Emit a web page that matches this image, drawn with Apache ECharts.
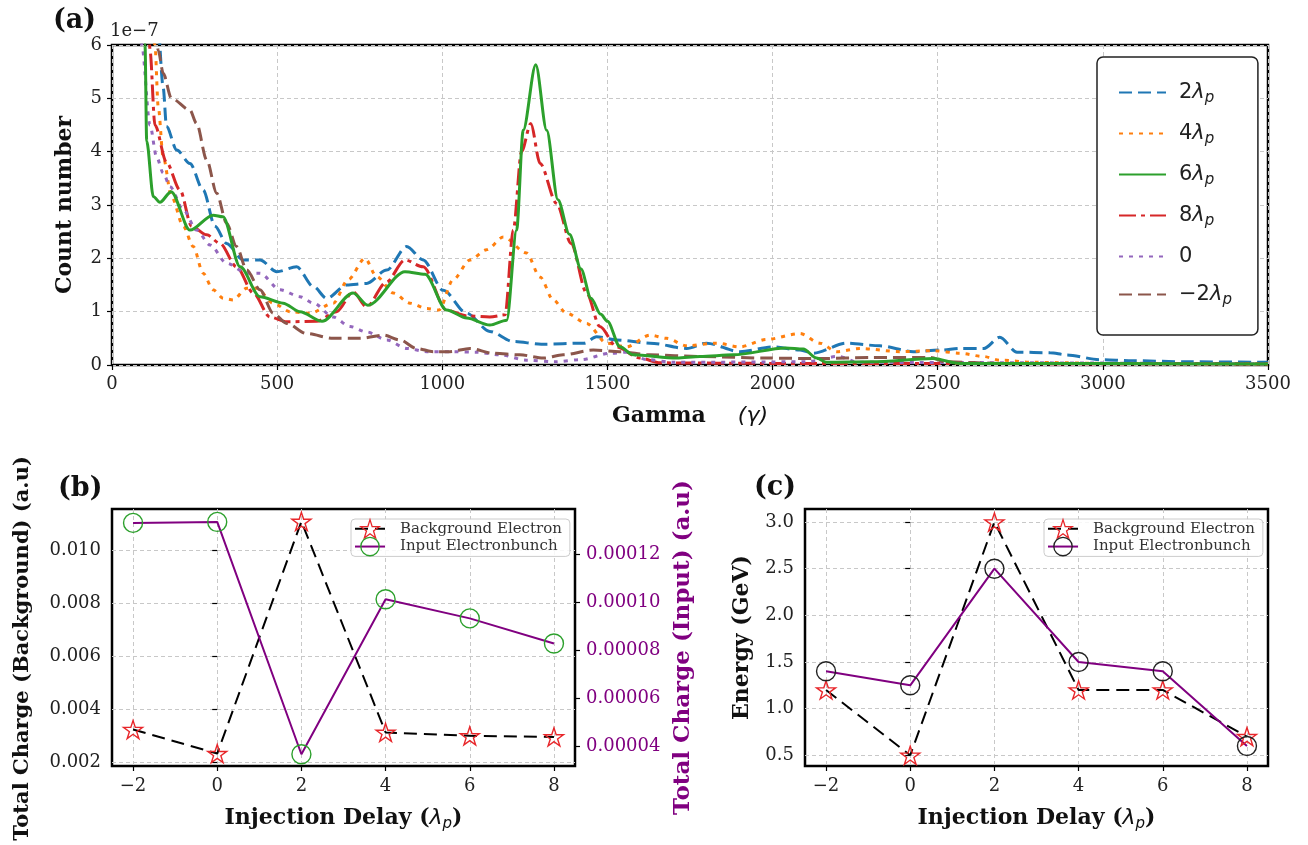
<!DOCTYPE html>
<html>
<head>
<meta charset="utf-8">
<script src="https://cdn.jsdelivr.net/npm/echarts@6/dist/echarts.min.js"></script>
<style>
html, body { margin: 0; padding: 0; background: #fff; }
#chart { width: 1308px; height: 845px; }
</style>
</head>
<body>
<div id="chart"></div>
<script>
// ---- panel (a): electron spectra, [gamma, count (x1e-7)] ----
const spectrumNames = ['2λp', '4λp', '6λp', '8λp', '0', '−2λp'];
const spec2 = [[140, 6.6], [155, 5.2], [165, 4.47], [196, 4.03], [236, 3.78], [276, 3.28], [312, 2.6], [347, 2.28], [397, 1.97], [448, 1.97], [499, 1.75], [559, 1.84], [610, 1.47], [650, 1.25], [711, 1.5], [771, 1.53], [832, 1.78], [892, 2.22], [942, 1.97], [1003, 1.4], [1074, 0.97], [1144, 0.63], [1215, 0.44], [1300, 0.39], [1430, 0.41], [1467, 0.53], [1528, 0.47], [1629, 0.41], [1740, 0.31], [1800, 0.41], [1901, 0.25], [2002, 0.34], [2083, 0.28], [2123, 0.22], [2224, 0.41], [2325, 0.36], [2426, 0.25], [2510, 0.28], [2567, 0.31], [2640, 0.31], [2688, 0.52], [2740, 0.24], [2840, 0.23], [2890, 0.19], [2990, 0.1], [3090, 0.08], [3250, 0.06], [3500, 0.05]];
const spec4 = [[115, 7], [130, 6.0], [140, 4.84], [155, 3.9], [180, 3.16], [216, 2.6], [246, 2.22], [276, 1.72], [306, 1.41], [337, 1.25], [367, 1.22], [408, 1.44], [438, 1.44], [488, 1.16], [539, 1.0], [600, 0.97], [670, 1.16], [715, 1.6], [766, 2.0], [801, 1.66], [852, 1.35], [902, 1.16], [953, 1.06], [990, 1.03], [1033, 1.6], [1084, 1.97], [1134, 2.16], [1185, 2.4], [1255, 2.1], [1296, 1.65], [1336, 1.22], [1376, 0.97], [1437, 0.78], [1498, 0.41], [1558, 0.34], [1629, 0.56], [1679, 0.5], [1740, 0.36], [1830, 0.41], [1901, 0.34], [1982, 0.48], [2083, 0.59], [2143, 0.41], [2194, 0.25], [2265, 0.31], [2386, 0.25], [2487, 0.27], [2567, 0.22], [2638, 0.16], [2688, 0.09], [2789, 0.05], [3000, 0.03], [3500, 0.02]];
const spec6 = [[85, 7.5], [100, 6.0], [105, 4.2], [125, 3.16], [145, 3.05], [179, 3.25], [236, 2.53], [306, 2.81], [336, 2.78], [388, 1.84], [448, 1.28], [518, 1.16], [569, 1.0], [636, 0.82], [730, 1.35], [775, 1.12], [887, 1.75], [948, 1.7], [1013, 1.03], [1074, 0.88], [1144, 0.75], [1195, 0.84], [1225, 2.53], [1245, 4.4], [1283, 5.63], [1316, 4.4], [1350, 3.1], [1385, 2.45], [1420, 1.8], [1450, 1.25], [1480, 0.95], [1500, 0.82], [1538, 0.34], [1578, 0.19], [1710, 0.13], [1780, 0.16], [1881, 0.19], [2040, 0.32], [2093, 0.3], [2133, 0.13], [2164, 0.05], [2300, 0.06], [2486, 0.12], [2565, 0.03], [3500, 0.02]];
const spec8 = [[110, 7], [115, 5.9], [130, 4.5], [165, 3.8], [206, 3.28], [241, 2.6], [287, 2.44], [327, 2.28], [377, 1.84], [428, 1.35], [478, 0.9], [529, 0.81], [620, 0.82], [680, 1.0], [730, 1.37], [771, 1.09], [830, 1.55], [887, 1.97], [942, 1.84], [1013, 1.03], [1074, 0.92], [1144, 0.9], [1190, 0.94], [1215, 2.53], [1240, 4.0], [1268, 4.53], [1296, 3.78], [1346, 3.03], [1390, 2.28], [1437, 1.35], [1477, 0.72], [1528, 0.34], [1598, 0.13], [1660, 0.04], [2000, 0.03], [3500, 0.02]];
const spec0 = [[85, 7], [90, 6.0], [115, 4.5], [135, 3.9], [155, 3.6], [176, 3.34], [216, 2.91], [256, 2.53], [297, 2.25], [347, 1.91], [408, 1.72], [448, 1.72], [509, 1.41], [569, 1.28], [610, 1.16], [670, 0.9], [721, 0.72], [771, 0.62], [832, 0.47], [892, 0.31], [953, 0.25], [1033, 0.25], [1104, 0.24], [1175, 0.19], [1255, 0.09], [1340, 0.06], [1420, 0.1], [1508, 0.22], [1560, 0.24], [1620, 0.1], [1700, 0.05], [2100, 0.06], [2198, 0.16], [2260, 0.05], [3500, 0.02]];
const specM2 = [[125, 7], [140, 5.9], [155, 5.47], [180, 5.0], [236, 4.78], [256, 4.53], [287, 3.84], [317, 3.22], [347, 2.66], [377, 2.22], [408, 1.78], [448, 1.41], [488, 0.97], [529, 0.78], [589, 0.59], [670, 0.5], [751, 0.5], [822, 0.56], [872, 0.47], [922, 0.31], [973, 0.25], [1023, 0.25], [1084, 0.31], [1154, 0.22], [1235, 0.19], [1306, 0.13], [1366, 0.19], [1457, 0.28], [1538, 0.25], [1629, 0.19], [1780, 0.16], [1982, 0.13], [2143, 0.12], [2300, 0.14], [2480, 0.14], [2520, 0.06], [2700, 0.03], [3500, 0.02]];
const spectra = [spec2, spec4, spec6, spec8, spec0, specM2];

// ---- panels (b) and (c) ----
const delays = [-2, 0, 2, 4, 6, 8];
const bgCharge = [0.00323, 0.00232, 0.0111, 0.00312, 0.00299, 0.00295];
const inputCharge = [0.0001333, 0.0001337, 0.0000366, 0.0001014, 0.0000934, 0.0000829];
const bgEnergy = [1.2, 0.5, 3.0, 1.2, 1.2, 0.7];
const inputEnergy = [1.4, 1.25, 2.5, 1.5, 1.4, 0.6];

const delayTicks = [-2, 0, 2, 4, 6, 8];
const bgChargeTicks = [0.002, 0.004, 0.006, 0.008, 0.010];
const inputChargeTicks = [0.00004, 0.00006, 0.00008, 0.00010, 0.00012];
const energyTicks = [0.5, 1.0, 1.5, 2.0, 2.5, 3.0];
const legendNames = ['Background Electron', 'Input Electronbunch'];

const SERIF = '"DejaVu Serif", "Liberation Serif", serif';
const SANS = '"DejaVu Sans", sans-serif';
const STAR = 'path://M50,2 L61.2,36.6 L97.6,36.6 L68.2,58 L79.4,92.6 L50,71.2 L20.6,92.6 L31.8,58 L2.4,36.6 L38.8,36.6 Z';

const colors = ['#1f77b4', '#ff7f0e', '#2ca02c', '#d62728', '#9467bd', '#8c564b'];
const dashes = [[13, 6], [4, 6], 'solid', [17, 5, 4, 5], [4, 6], [13, 6]];

const chart = echarts.init(document.getElementById('chart'));

const gridLine = { show: true, lineStyle: { color: '#c8c8c8', width: 1, type: [4, 3] } };
const tickLabel = { color: '#222', fontFamily: SERIF, fontSize: 18 };
const tickLine = { length: 5, lineStyle: { color: '#000', width: 1.2 } };
const minusFmt = v => String(v).replace('-', '−');
const titleFont = { fontFamily: SERIF, fontSize: 22, fontWeight: 'bold', color: '#111' };

// rich text for λp labels
const lamRich = {
  n: { fontFamily: SANS, fontSize: 21, color: '#222' },
  l: { fontFamily: SANS, fontSize: 21, fontStyle: 'italic', color: '#222' },
  s: { fontFamily: SANS, fontSize: 15, fontStyle: 'italic', color: '#222', padding: [12, 0, 0, 0] }
};
function lamLabel(name) {
  if (name.indexOf('λp') < 0) return '{n|' + name + '}';
  return '{n|' + name.replace('λp', '') + '}{l|λ}{s|p}';
}

const axisTitleRich = {
  b: titleFont,
  l: { fontFamily: SANS, fontSize: 22, fontStyle: 'italic', color: '#111' },
  s: { fontFamily: SANS, fontSize: 15, fontStyle: 'italic', color: '#111', padding: [12, 0, 0, 0] },
  g: { fontFamily: SANS, fontSize: 22, fontStyle: 'italic', color: '#111', padding: [0, 0, 0, 32] }
};
const delayTitle = '{b|Injection Delay (}{l|λ}{s|p}{b|)}';

const spectrumSeries = spectrumNames.map((name, i) => ({
  name: name,
  type: 'line',
  xAxisIndex: 0,
  yAxisIndex: 0,
  data: spectra[i],
  symbol: 'none',
  smooth: 0.3,
  smoothMonotone: 'x',
  z: i === 2 ? 5 : 3,
  lineStyle: { color: colors[i], width: 3, type: dashes[i] },
  itemStyle: { color: colors[i] }
}));

function pairs(xs, ys) {
  return xs.map((x, i) => [x, ys[i]]);
}

const bgStyle = {
  type: 'line',
  symbol: STAR,
  symbolSize: 19,
  symbolKeepAspect: true,
  lineStyle: { color: '#000', width: 2, type: [13, 7] },
  itemStyle: { color: 'rgba(0,0,0,0)', borderColor: '#e8262a', borderWidth: 1.4 }
};

const smallLegend = {
  orient: 'vertical', top: 519,
  itemWidth: 30, itemHeight: 23, itemGap: -2,
  padding: [0, 8, 0, 3],
  borderColor: '#ccc', borderWidth: 1, borderRadius: 4,
  backgroundColor: 'rgba(255,255,255,0.85)',
  itemStyle: { color: 'rgba(0,0,0,0)', borderWidth: 1.3 },
  textStyle: { fontFamily: SERIF, fontSize: 15, color: '#333', padding: [0, 0, 0, 10] }
};

const gridBase = { show: true, borderColor: '#000', borderWidth: 2.5, backgroundColor: 'transparent', outerBoundsMode: 'none', containLabel: false };

const option = {
  animation: false,
  backgroundColor: '#fff',
  grid: [
    Object.assign({ left: 112, top: 45, width: 1156, height: 320 }, gridBase),
    Object.assign({ left: 112, top: 509, width: 463, height: 257 }, gridBase),
    Object.assign({ left: 805, top: 509, width: 463, height: 257 }, gridBase)
  ],
  xAxis: [
    {
      gridIndex: 0, type: 'value', min: 0, max: 3500, interval: 500,
      axisLine: { show: false },
      axisTick: tickLine,
      axisLabel: Object.assign({ margin: 10, formatter: v => String(v) }, tickLabel),
      splitLine: gridLine,
      name: '{b|Gamma}{g|(γ)}',
      nameLocation: 'middle', nameGap: 40,
      nameTextStyle: { rich: axisTitleRich }
    },
    {
      gridIndex: 1, type: 'value', min: -2.5, max: 8.5,
      axisLine: { show: false },
      axisTick: Object.assign({ customValues: delayTicks }, tickLine),
      axisLabel: Object.assign({ customValues: delayTicks, formatter: minusFmt, margin: 11 }, tickLabel),
      splitLine: gridLine,
      name: delayTitle, nameLocation: 'middle', nameGap: 39,
      nameTextStyle: { rich: axisTitleRich }
    },
    {
      gridIndex: 2, type: 'value', min: -2.5, max: 8.5,
      axisLine: { show: false },
      axisTick: Object.assign({ customValues: delayTicks }, tickLine),
      axisLabel: Object.assign({ customValues: delayTicks, formatter: minusFmt, margin: 11 }, tickLabel),
      splitLine: gridLine,
      name: delayTitle, nameLocation: 'middle', nameGap: 39,
      nameTextStyle: { rich: axisTitleRich }
    }
  ],
  yAxis: [
    {
      gridIndex: 0, type: 'value', min: 0, max: 6, interval: 1,
      axisLine: { show: false },
      axisTick: Object.assign({ show: true }, tickLine),
      axisLabel: Object.assign({ margin: 10 }, tickLabel),
      splitLine: gridLine,
      name: 'Count number', nameLocation: 'middle', nameGap: 36,
      nameTextStyle: titleFont
    },
    {
      gridIndex: 1, type: 'value', min: 0.00185, max: 0.01157,
      axisLine: { show: false },
      axisTick: Object.assign({ show: true, customValues: bgChargeTicks }, tickLine),
      axisLabel: Object.assign({ customValues: bgChargeTicks, formatter: v => v.toFixed(3), margin: 11 }, tickLabel),
      splitLine: gridLine,
      name: 'Total Charge (Background) (a.u)', nameLocation: 'middle', nameGap: 79,
      nameTextStyle: Object.assign({}, titleFont, { fontSize: 21, padding: [0, 22, 0, 0] })
    },
    {
      gridIndex: 1, type: 'value', position: 'right', min: 0.0000317, max: 0.0001391,
      axisLine: { show: false },
      axisTick: Object.assign({ show: true, customValues: inputChargeTicks }, tickLine),
      axisLabel: Object.assign({}, tickLabel, { customValues: inputChargeTicks, formatter: v => v.toFixed(5), margin: 11, color: '#800080' }),
      splitLine: { show: false },
      name: 'Total Charge (Input) (a.u)', nameLocation: 'middle', nameGap: 97,
      nameTextStyle: Object.assign({}, titleFont, { fontSize: 23, color: '#800080', padding: [0, 20, 0, 0] })
    },
    {
      gridIndex: 2, type: 'value', min: 0.385, max: 3.14,
      axisLine: { show: false },
      axisTick: Object.assign({ show: true, customValues: energyTicks }, tickLine),
      axisLabel: Object.assign({ customValues: energyTicks, formatter: v => v.toFixed(1), margin: 11 }, tickLabel),
      splitLine: gridLine,
      name: 'Energy (GeV)', nameLocation: 'middle', nameGap: 52,
      nameTextStyle: titleFont
    }
  ],
  legend: [
    {
      data: spectrumNames,
      orient: 'vertical', left: 1097, top: 57,
      itemWidth: 47, itemHeight: 14, itemGap: 17,
      padding: [25, 26, 27, 21],
      borderColor: '#222', borderWidth: 1.5, borderRadius: 6,
      backgroundColor: '#fff',
      itemStyle: { opacity: 0 },
      formatter: lamLabel,
      textStyle: { padding: [0, 0, 0, 8], rich: lamRich }
    },
    Object.assign({ data: legendNames, left: 351 }, smallLegend),
    Object.assign({ data: legendNames.map(n => n + ' '), left: 1044, formatter: n => n.trim() }, smallLegend)
  ],
  series: spectrumSeries.concat([
    Object.assign({}, bgStyle, {
      name: legendNames[0], xAxisIndex: 1, yAxisIndex: 1,
      data: pairs(delays, bgCharge)
    }),
    {
      name: legendNames[1], type: 'line', xAxisIndex: 1, yAxisIndex: 2,
      data: pairs(delays, inputCharge),
      symbol: 'circle', symbolSize: 19,
      lineStyle: { color: '#800080', width: 2 },
      itemStyle: { color: 'rgba(0,0,0,0)', borderColor: '#2ca02c', borderWidth: 1.4 }
    },
    Object.assign({}, bgStyle, {
      name: legendNames[0] + ' ', xAxisIndex: 2, yAxisIndex: 3,
      data: pairs(delays, bgEnergy)
    }),
    {
      name: legendNames[1] + ' ', type: 'line', xAxisIndex: 2, yAxisIndex: 3,
      data: pairs(delays, inputEnergy),
      symbol: 'circle', symbolSize: 19,
      lineStyle: { color: '#800080', width: 2 },
      itemStyle: { color: 'rgba(0,0,0,0)', borderColor: '#222', borderWidth: 1.4 }
    }
  ]),
  graphic: [
    { type: 'text', left: 53, top: 7, style: { text: '(a)', font: 'bold 27px "DejaVu Serif"', fill: '#111' } },
    { type: 'text', left: 110, top: 22, style: { text: '1e−7', font: '18px "DejaVu Serif"', fill: '#222' } },
    { type: 'text', left: 58, top: 475, style: { text: '(b)', font: 'bold 27px "DejaVu Serif"', fill: '#111' } },
    { type: 'text', left: 754, top: 474, style: { text: '(c)', font: 'bold 27px "DejaVu Serif"', fill: '#111' } }
  ]
};

chart.setOption(option);
</script>
</body>
</html>
